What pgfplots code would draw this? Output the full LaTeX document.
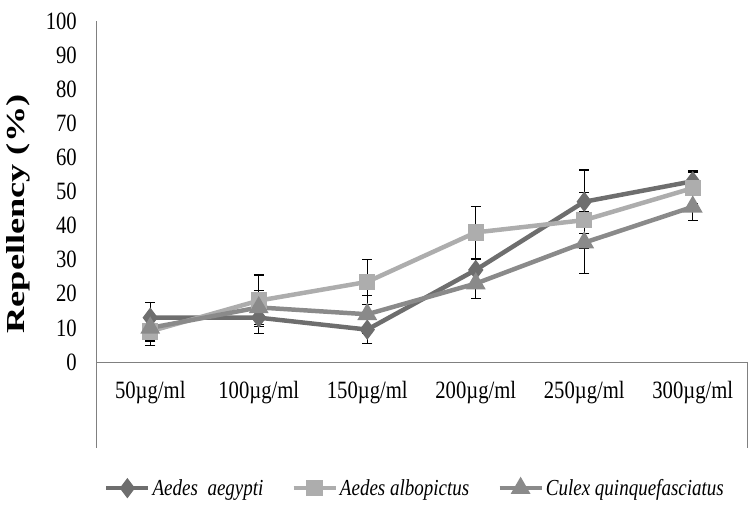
\documentclass[border=0pt]{standalone}
\usepackage{fontspec}
\setmainfont{Liberation Serif}
\newfontfamily\tickfont{Liberation Serif}[FakeStretch=0.83]
\newfontfamily\ylabfont{Liberation Serif}[FakeStretch=1.4]
\usepackage{pgfplots}
\pgfplotsset{compat=1.18}
\definecolor{cA}{HTML}{6E6E6E}
\definecolor{cB}{HTML}{ADADAD}
\definecolor{cC}{HTML}{8A8A8A}
\begin{document}
\begin{tikzpicture}
\path[use as bounding box] (0,0) rectangle (750bp,511bp);
\begin{axis}[
  at={(96bp,149bp)}, anchor=south west,
  scale only axis, width=651bp, height=341bp,
  xmin=-0.5, xmax=5.5, ymin=0, ymax=100,
  axis x line*=bottom, axis y line*=left,
  axis line style={draw=black!50, line width=1pt, -},
  xtick={0,1,2,3,4,5},
  xticklabels={50µg/ml,100µg/ml,150µg/ml,200µg/ml,250µg/ml,300µg/ml},
  ytick={0,10,...,100},
  major tick length=0pt,
  tick label style={font=\fontsize{25}{25}\selectfont\tickfont},
  yticklabel style={anchor=east, inner sep=0pt, xshift=-19bp},
  xticklabel style={anchor=north, inner sep=0pt, yshift=-19bp},
  /pgf/number format/assume math mode=true,
  ylabel={Repellency (\%)},
  ylabel style={font=\fontsize{26}{26}\selectfont\ylabfont\bfseries, at={(axis description cs:-0.1198,0.434)}, anchor=center, inner sep=0pt},
  clip=false,
  legend style={at={(axis description cs:0.49,-0.37)}, anchor=center, draw=none, fill=none,
    font=\fontsize{23}{23}\selectfont\tickfont\itshape, inner sep=0pt,
    /tikz/every even column/.append style={column sep=26bp}},
  legend columns=3,
  legend cell align=left,
  legend image code/.code={\draw[mark repeat=2,mark phase=2,#1] plot coordinates {(0bp,0bp) (21bp,0bp) (42bp,0bp)};},
  error bars/y dir=both, error bars/y explicit,
  error bars/error mark=|,
  error bars/error bar style={black, line width=1.3pt},
  error bars/error mark options={black, line width=1.3pt, mark size=5bp},
]
\draw[black!50, line width=1pt] (axis description cs:0,0) -- (axis description cs:0,-0.252);
\draw[black!50, line width=1pt] (axis description cs:1,0) -- (axis description cs:1,-0.252);
\addplot[cA, line width=4.5pt, mark=diamond*, mark size=6.5bp, mark options={solid, fill=cA}]
  coordinates {(0,13) +- (0,4.5) (1,13) +- (0,4.6) (2,9.5) +- (0,4) (3,27) +- (0,3.2) (4,47) +- (0,9.3) (5,53) +- (0,3)};
\addlegendentry{Aedes~~aegypti}
\addplot[cB, line width=4.5pt, mark=square*, mark size=6bp, mark options={solid, fill=cB}]
  coordinates {(0,9) +- (0,4.2) (1,18) +- (0,7.5) (2,23.5) +- (0,6.6) (3,38) +- (0,7.6) (4,41.6) +- (0,8.2) (5,51) +- (0,4.5)};
\addlegendentry{Aedes albopictus}
\addplot[cC, line width=4.5pt, mark=triangle*, mark size=7bp, mark options={solid, fill=cC}]
  coordinates {(0,10) +- (0,3.8) (1,16) +- (0,5) (2,14) +- (0,5.6) (3,23) +- (0,4.3) (4,35) +- (0,9) (5,45.5) +- (0,4)};
\addlegendentry{Culex quinquefasciatus}
\end{axis}
\end{tikzpicture}
\end{document}
